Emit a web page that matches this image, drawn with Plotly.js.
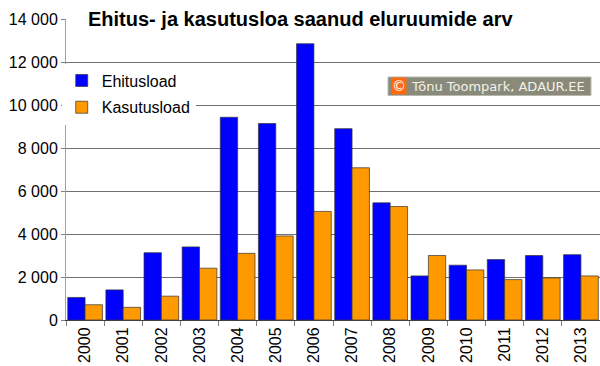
<!DOCTYPE html>
<html>
<head>
<meta charset="utf-8">
<script src="https://cdn.plot.ly/plotly-3.0.1.min.js"></script>
<style>html,body{margin:0;padding:0;background:#fff}#chart{width:600px;height:366px}</style>
</head>
<body>
<div id="chart"></div>
<script>
const years = ['2000','2001','2002','2003','2004','2005','2006','2007','2008','2009','2010','2011','2012','2013'];
const ehitusload = [1050, 1400, 3130, 3400, 9430, 9140, 12850, 8900, 5450, 2050, 2550, 2810, 3000, 3040];
const kasutusload = [710, 590, 1110, 2410, 3100, 3910, 5050, 7080, 5280, 3000, 2330, 1880, 1960, 2050];
const seriesNames = ['Ehitusload', 'Kasutusload'];
const titleText = 'Ehitus- ja kasutusloa saanud eluruumide arv';
const creditSymbol = '©';
const creditText = 'Tõnu Toompark, ADAUR.EE';

const font = 'Arial, "Liberation Sans", sans-serif';
const traces = [
  {type:'bar', name:seriesNames[0], x:years, y:ehitusload, legendgroup:'a',
   marker:{color:'#0000ff', line:{color:'#333333', width:0.7}}},
  {type:'bar', name:seriesNames[1], x:years, y:kasutusload, legendgroup:'b',
   marker:{color:'#ff9900', line:{color:'#333333', width:0.7}}}
];
const px = v => (v-66)/534;
const py = v => (320-v)/301;
const layout = {
  width:600, height:366,
  margin:{l:66, r:0, t:19, b:46, pad:0},
  paper_bgcolor:'#ffffff', plot_bgcolor:'#ffffff',
  separators:', ',
  font:{family:font, size:16, color:'#000'},
  barmode:'group', bargap:0.09, bargroupgap:0,
  showlegend:true,
  legend:{x:-0.008, xanchor:'left', y:0.852, yanchor:'top', bgcolor:'#ffffff',
          borderwidth:0, font:{family:font, size:16, color:'#000'},
          traceorder:'grouped', tracegroupgap:3},
  title:{text:'<b>'+titleText+'</b>', font:{family:font, size:20, color:'#000'},
         x:88/600, xanchor:'left', xref:'container', y:1-19/366, yanchor:'middle', yref:'container'},
  xaxis:{type:'category', tickangle:-90, ticks:'outside', ticklen:5, tickcolor:'#808080',
         tickson:'boundaries', showline:true, linecolor:'#404040', linewidth:1,
         showgrid:false, tickfont:{family:font, size:16, color:'#000'}, fixedrange:true},
  yaxis:{range:[0,14000], dtick:2000, tick0:0, ticks:'outside', ticklen:4, tickcolor:'#808080',
         showline:true, linecolor:'#a0a0a0', linewidth:1, showgrid:true, gridcolor:'#707070',
         gridwidth:1, zeroline:false, separatethousands:true, tickformat:',d',
         tickfont:{family:font, size:16, color:'#000'}, fixedrange:true},
  shapes:[
    {type:'rect', xref:'paper', yref:'paper', x0:px(86), x1:px(512), y0:0.97, y1:1.03,
     fillcolor:'#ffffff', line:{width:0}, layer:'above'},
    {type:'rect', xref:'paper', yref:'paper', x0:px(388), x1:px(591), y0:py(95.5), y1:py(77),
     fillcolor:'#8a8a7a', line:{color:'#b8b8b0', width:1}, layer:'above'}
  ],
  annotations:[
    {text:creditSymbol, xref:'paper', yref:'paper', x:px(390.5), xanchor:'left',
     y:py(86.2), yanchor:'middle', showarrow:false, bgcolor:'#ff6a10', borderpad:0,
     font:{family:'"DejaVu Sans", sans-serif', size:14, color:'#ffffff'}},
    {text:creditText, xref:'paper', yref:'paper', x:px(409), xanchor:'left',
     y:py(86.2), yanchor:'middle', showarrow:false,
     font:{family:'"DejaVu Sans", sans-serif', size:13, color:'#f2f2ea'}}
  ]
};
Plotly.newPlot('chart', traces, layout, {staticPlot:true, displayModeBar:false});
</script>
</body>
</html>
